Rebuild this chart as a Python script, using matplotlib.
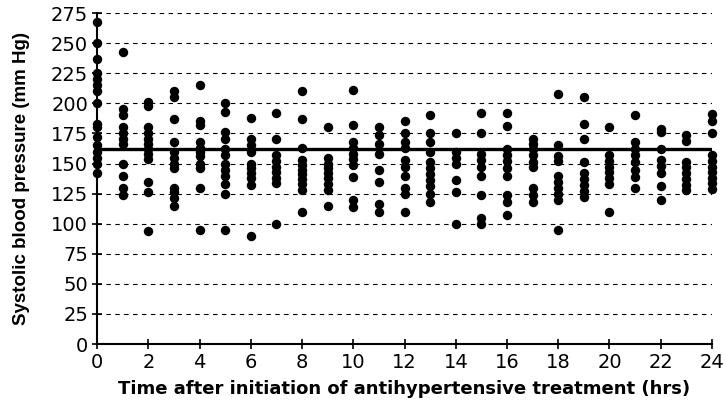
import matplotlib.pyplot as plt

# systolic readings (mm Hg) by hour after start of treatment
hours = list(range(25))
sbp = [
    [268, 250, 237, 225, 220, 215, 210, 200, 183, 180, 172, 165, 160, 155, 150, 142],
    [243, 195, 190, 180, 175, 170, 166, 150, 140, 130, 124],
    [201, 198, 180, 175, 170, 166, 162, 158, 154, 135, 126, 94],
    [210, 205, 187, 168, 160, 155, 150, 146, 130, 126, 121, 115],
    [215, 185, 182, 168, 163, 160, 156, 150, 146, 130, 95],
    [200, 193, 176, 170, 162, 157, 150, 145, 140, 133, 125, 95],
    [188, 170, 165, 160, 150, 146, 142, 138, 132, 90],
    [192, 170, 157, 152, 147, 143, 138, 134, 100],
    [210, 187, 163, 153, 149, 145, 141, 137, 133, 128, 110],
    [180, 155, 150, 146, 142, 138, 133, 128, 115],
    [211, 182, 168, 163, 158, 154, 149, 139, 120, 114],
    [180, 174, 166, 158, 145, 135, 116, 110],
    [185, 175, 168, 163, 153, 147, 140, 130, 125, 110],
    [190, 175, 168, 160, 151, 146, 141, 136, 131, 125, 118],
    [175, 160, 155, 150, 136, 126, 100],
    [192, 175, 158, 153, 147, 140, 124, 105, 100],
    [192, 181, 162, 157, 152, 146, 140, 124, 118, 107],
    [170, 166, 162, 157, 151, 147, 130, 124, 118],
    [208, 165, 156, 152, 140, 135, 130, 125, 120, 95],
    [205, 183, 170, 151, 142, 137, 132, 127, 122],
    [180, 157, 152, 147, 143, 138, 133, 110],
    [190, 168, 162, 157, 151, 145, 139, 130],
    [179, 176, 162, 153, 148, 142, 131, 120],
    [174, 169, 151, 147, 142, 137, 132, 128],
    [191, 185, 175, 157, 152, 147, 143, 138, 134, 129],
]
mean_sbp = 162.5

plt.rcParams['font.family'] = ['DejaVu Sans']

fig = plt.figure(figsize=(7.25, 4.11), dpi=100)
ax = fig.add_axes([0.134, 0.163, 0.848, 0.805])

for h, vals in zip(hours, sbp):
    ax.plot([h] * len(vals), vals, 'o', color='black', markersize=6.8,
            markeredgewidth=0, clip_on=False, zorder=3)

ax.axhline(mean_sbp, color='black', linewidth=2.4, zorder=4)

ax.set_xlim(0, 24)
ax.set_ylim(0, 275)
ax.set_xticks(range(0, 25, 2))
ax.set_yticks(range(0, 276, 25))
ax.yaxis.grid(True, linestyle=(0, (4, 4)), color='black', linewidth=0.8)
ax.set_axisbelow(True)

ax.spines['top'].set_visible(False)
ax.spines['right'].set_visible(False)
ax.spines['left'].set_linewidth(1.5)
ax.spines['bottom'].set_linewidth(1.5)
ax.tick_params(direction='inout', length=7, width=1.2, labelsize=14, pad=3)

ax.set_xlabel('Time after initiation of antihypertensive treatment (hrs)',
              fontsize=13, fontweight='bold')
ax.set_ylabel('Systolic blood pressure (mm Hg)', fontsize=13.5, fontweight='bold',
              family=['Liberation Sans', 'DejaVu Sans'])
ax.xaxis.set_label_coords(0.5, -0.11)
ax.yaxis.set_label_coords(-0.11, 0.5)

fig.savefig('out.png', dpi=100)
